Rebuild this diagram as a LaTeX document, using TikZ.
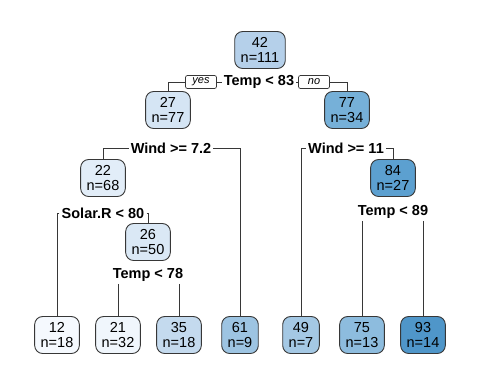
\documentclass[tikz,border=0pt]{standalone}
\usepackage{fontspec}
\setmainfont{Liberation Sans}
\usepackage{xcolor}
\definecolor{edgegray}{RGB}{55,55,55}
\definecolor{b12}{HTML}{F5F9FE}
\definecolor{b21}{HTML}{F0F6FC}
\definecolor{b22}{HTML}{E2EDF8}
\definecolor{b26}{HTML}{DAE8F5}
\definecolor{b27}{HTML}{D5E5F4}
\definecolor{b35}{HTML}{C4DAEE}
\definecolor{b42}{HTML}{B5D0EA}
\definecolor{b49}{HTML}{A4C8E4}
\definecolor{b61}{HTML}{9DC4E2}
\definecolor{b75}{HTML}{8DBCDE}
\definecolor{b77}{HTML}{76B0D8}
\definecolor{b84}{HTML}{5CA0D0}
\definecolor{b93}{HTML}{4F96C9}

\begin{document}
\begin{tikzpicture}[x=1pt,y=-1pt,
  font=\fontsize{14.5}{14.5}\selectfont,
  leaf/.style={draw=edgegray,line width=0.9pt,rounded corners=8pt,align=center,
    inner xsep=6pt,inner ysep=3.5pt,minimum height=37pt},
  split/.style={font=\fontsize{14.5}{15}\selectfont\bfseries,inner sep=2pt},
  tag/.style={draw=edgegray,line width=0.7pt,fill=white,rounded corners=2pt,
    font=\fontsize{11}{12}\selectfont\itshape,inner xsep=3pt,inner ysep=1.5pt,
    minimum width=31pt,minimum height=13pt},
  branch/.style={edgegray,line width=1pt}]
\useasboundingbox (0,0) rectangle (480,384);
% inner nodes
\node[leaf,fill=b42] (n1) at (260,50) {42\\n=111};
\node[leaf,fill=b27] (n2) at (168,110) {27\\n=77};
\node[leaf,fill=b77] (n3) at (347,110) {77\\n=34};
\node[leaf,fill=b22] (n4) at (103,178) {22\\n=68};
\node[leaf,fill=b84] (n7) at (393,178) {84\\n=27};
\node[leaf,fill=b26] (n5) at (148,242) {26\\n=50};
% leaves
\node[leaf,fill=b12] (l1) at (57,335) {12\\n=18};
\node[leaf,fill=b21] (l2) at (118,335) {21\\n=32};
\node[leaf,fill=b35] (l3) at (179,335) {35\\n=18};
\node[leaf,fill=b61] (l4) at (240,335) {61\\n=9};
\node[leaf,fill=b49] (l5) at (301,335) {49\\n=7};
\node[leaf,fill=b75] (l6) at (362,335) {75\\n=13};
\node[leaf,fill=b93] (l7) at (423,335) {93\\n=14};
% split labels
\node[split] (s1) at (259,82) {Temp < 83};
\node[split] (s2) at (171,148) {Wind >= 7.2};
\node[split] (s3) at (346,148) {Wind >= 11};
\node[split] (s4) at (103,213) {Solar.R < 80};
\node[split] (s7) at (393,212) {Temp < 89};
\node[split] (s5) at (148,275) {Temp < 78};
% branches
\draw[branch] (s1.west) -| (n2.north);
\draw[branch] (s1.east) -| (n3.north);
\draw[branch] (s2.west) -| (n4.north);
\draw[branch] (s2.east) -| (l4.north);
\draw[branch] (s3.west) -| (l5.north);
\draw[branch] (s3.east) -| (n7.north);
\draw[branch] (s4.west) -| (l1.north);
\draw[branch] (s4.east) -| (n5.north);
\draw[branch] (s5.south -| l2.north) -- (l2.north);
\draw[branch] (s5.south -| l3.north) -- (l3.north);
\draw[branch] (s7.south -| l6.north) -- (l6.north);
\draw[branch] (s7.south -| l7.north) -- (l7.north);
\node[tag] (yes) at (201,82) {yes};
\node[tag] (no) at (314,82) {no};
\end{tikzpicture}
\end{document}
